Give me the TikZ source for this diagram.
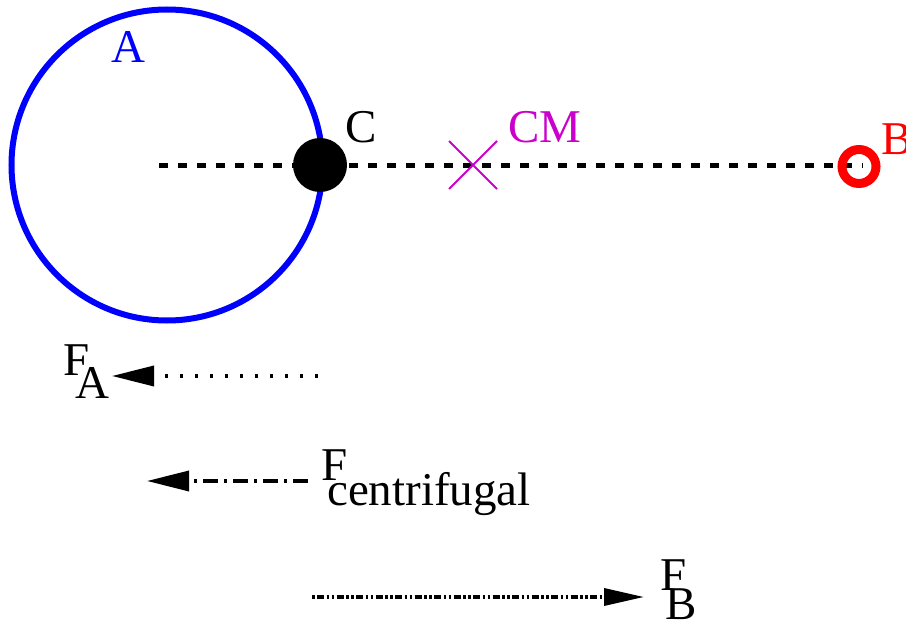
\documentclass[tikz,border=0pt]{standalone}
\usepackage{fontspec}
\setmainfont{Liberation Serif}
\usetikzlibrary{arrows.meta}
\definecolor{cmmag}{RGB}{204,0,204}
\begin{document}
\begin{tikzpicture}[x=1pt,y=-1pt,
  lbl/.style={inner sep=0pt, anchor=base west, font=\fontsize{47}{50}\selectfont},
  force/.style={line width=3.5pt, line cap=butt},
  headA/.style={-{Triangle[length=42pt,width=20pt]}},
  headB/.style={-{Triangle[length=40pt,width=17pt]}}]
\useasboundingbox (0,0) rectangle (906,623);
% axis line
\coordinate (ls) at (159,166);
\coordinate (le) at (863,166);
\draw[line width=5pt, dash pattern=on 9pt off 10pt] (ls) -- (le);
% body A
\node[circle, draw=blue, line width=6pt, minimum size=311pt, inner sep=0pt] (circA) at (167,165) {};
\node[lbl, text=blue] (labA) at (111,63) {A};
% C
\node[circle, fill=black, minimum size=54pt, inner sep=0pt] (C) at (320,165) {};
\node[lbl] (labC) at (345,143) {C};
% CM
\coordinate (cm) at (473,165);
\draw[cmmag, line width=2pt] ([shift={(-24,-24)}]cm) -- ([shift={(24,24)}]cm)
  ([shift={(-24,24)}]cm) -- ([shift={(24,-24)}]cm);
\node[lbl, text=cmmag] (labCM) at (508,143) {CM};
% B
\node[circle, draw=red, line width=9pt, minimum size=34pt, inner sep=0pt] (Bring) at (859,166.5) {};
\node[lbl, text=red] (labB) at (881,155) {B};
% F_A
\coordinate (fa1) at (318,376);
\coordinate (fa2) at (112,376);
\draw[force, headA, dash pattern=on 3.5pt off 11.5pt] (fa1) -- (fa2);
\node[lbl] (FA) at (63,375) {F};
\node[lbl] (FAs) at (75,398) {A};
% F_centrifugal
\coordinate (fc1) at (308,481);
\coordinate (fc2) at (147,481);
\draw[force, headA, dash pattern=on 15pt off 6pt on 3pt off 6pt] (fc1) -- (fc2);
\node[lbl] (FC) at (321,480) {F};
\node[lbl] (FCs) at (327,505) {centrifugal};
% F_B
\coordinate (fb1) at (312,597);
\coordinate (fb2) at (644,597);
\draw[force, headB, dash pattern=on 2.5pt off 2.5pt on 7pt off 2.5pt on 2.5pt off 2.5pt] (fb1) -- (fb2);
\node[lbl] (FB) at (660,590) {F};
\node[lbl] (FBs) at (665,619) {B};
\end{tikzpicture}
\end{document}
